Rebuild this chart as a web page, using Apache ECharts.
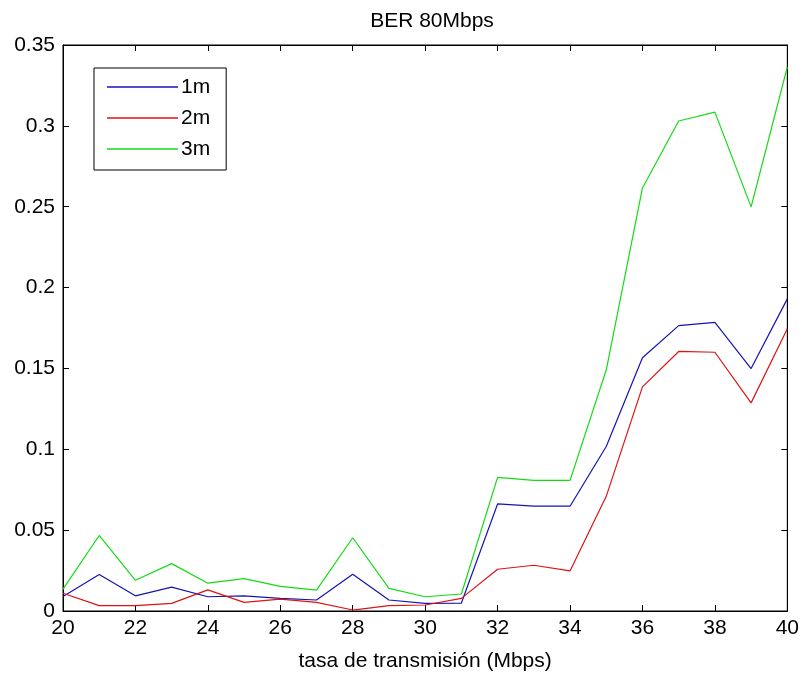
<!DOCTYPE html>
<html>
<head>
<meta charset="utf-8">
<script src="https://cdn.jsdelivr.net/npm/echarts@6/dist/echarts.min.js"></script>
<style>
html,body{margin:0;padding:0;background:#fff;}
#chart{width:802px;height:677px;}
</style>
</head>
<body>
<div id="chart"></div>
<script>
var rates = [20,21,22,23,24,25,26,27,28,29,30,31,32,33,34,35,36,37,38,39,40];
var ber1m = [0.009,0.0226,0.0094,0.0148,0.0088,0.0094,0.0078,0.0068,0.0227,0.0068,0.0047,0.0049,0.0662,0.0648,0.0648,0.1017,0.1566,0.1765,0.1785,0.1499,0.193];
var ber2m = [0.011,0.0033,0.0033,0.0047,0.0131,0.0053,0.0074,0.0053,0.0006,0.0033,0.0037,0.0078,0.0258,0.0283,0.0248,0.0709,0.1386,0.1605,0.160,0.1287,0.1745];
var ber3m = [0.0135,0.0467,0.019,0.0293,0.0172,0.020,0.0152,0.0129,0.0453,0.014,0.0088,0.0105,0.0826,0.0808,0.0808,0.149,0.2616,0.303,0.3085,0.2499,0.3364];
var seriesNames = ['1m','2m','3m'];
var seriesColors = ['#1414b4','#dc1414','#14dc14'];
var titleText = 'BER 80Mbps';
var xName = 'tasa de transmisión (Mbps)';

function pairs(ys){ return rates.map(function(x,i){ return [x, ys[i]]; }); }
var font = 'Liberation Sans, Arial, sans-serif';
var fs = 21;
var chart = echarts.init(document.getElementById('chart'));
var axisLine = {show:true, onZero:false, lineStyle:{color:'#000', width:1}};
var tickIn = {show:true, inside:true, length:6, lineStyle:{color:'#000'}};
var series = [ber1m, ber2m, ber3m].map(function(d,i){
  return {name:seriesNames[i], type:'line', data:pairs(d), symbol:'none',
    lineStyle:{color:seriesColors[i], width:1.2}, itemStyle:{color:seriesColors[i]}, animation:false};
});
chart.setOption({
  backgroundColor:'#fff',
  animation:false,
  title:{text:titleText, left:427, top:6, textAlign:'center',
    textStyle:{fontFamily:font, fontSize:fs, fontWeight:'normal', color:'#000'}},
  grid:{left:63, top:45, right:12, bottom:65, containLabel:false, show:true,
    borderColor:'#000', borderWidth:1, backgroundColor:'transparent'},
  legend:{orient:'vertical', left:94, top:68, padding:[8,16,10,13], itemGap:9,
    icon:'rect', itemWidth:71, itemHeight:1.5, backgroundColor:'#fff', borderColor:'#000', borderWidth:1,
    textStyle:{fontFamily:font, fontSize:fs, color:'#000', padding:[0,0,0,-2], lineHeight:22},
    data:seriesNames},
  xAxis:[
    {type:'value', min:20, max:40, interval:2, position:'bottom',
     name:xName, nameLocation:'middle', nameGap:40,
     nameTextStyle:{fontFamily:font, fontSize:fs, color:'#000'},
     axisLine:axisLine, axisTick:tickIn, splitLine:{show:false},
     axisLabel:{fontFamily:font, fontSize:fs, color:'#000', margin:7}},
    {type:'value', min:20, max:40, interval:2, position:'top',
     axisLine:axisLine, axisTick:tickIn, splitLine:{show:false}, axisLabel:{show:false}}
  ],
  yAxis:[
    {type:'value', min:0, max:0.35, interval:0.05, position:'left',
     axisLine:axisLine, axisTick:tickIn, splitLine:{show:false},
     axisLabel:{fontFamily:font, fontSize:fs, color:'#000', margin:8,
       formatter:function(v){ return String(Math.round(v*100)/100); }}},
    {type:'value', min:0, max:0.35, interval:0.05, position:'right',
     axisLine:axisLine, axisTick:tickIn, splitLine:{show:false}, axisLabel:{show:false}}
  ],
  series:series
});
</script>
</body>
</html>
